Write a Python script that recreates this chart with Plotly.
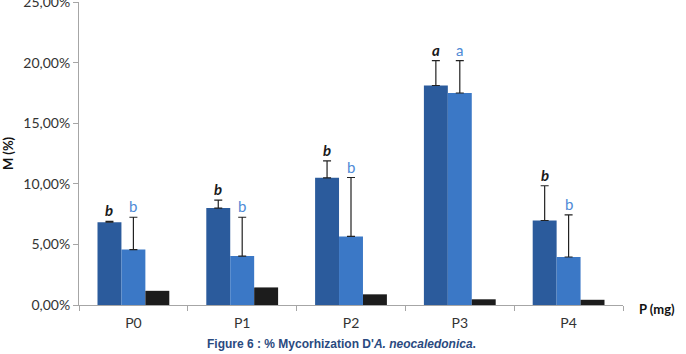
import plotly.graph_objects as go

categories = ["P0", "P1", "P2", "P3", "P4"]
series_a = [6.83, 8.00, 10.49, 18.11, 6.97]
series_a_err = [0.08, 0.66, 1.40, 2.05, 2.87]
series_b = [4.57, 4.04, 5.66, 17.49, 3.96]
series_b_err = [2.67, 3.20, 4.86, 2.67, 3.47]
series_c = [1.17, 1.45, 0.88, 0.47, 0.43]
letters_a = ["b", "b", "b", "a", "b"]
letters_b = ["b", "b", "b", "a", "b"]
y_ticks = [0, 5, 10, 15, 20, 25]
y_tick_labels = ["0,00%", "5,00%", "10,00%", "15,00%", "20,00%", "25,00%"]

font_main = "Lato, Open Sans, Liberation Sans, Arial, sans-serif"

fig = go.Figure()
fig.add_trace(go.Bar(
    x=categories, y=series_a, marker=dict(color="#2b5b9c", line=dict(width=0)),
    error_y=dict(type="data", array=series_a_err, arrayminus=[0] * 5, symmetric=False,
                 color="#222222", thickness=1.2, width=4),
    showlegend=False))
fig.add_trace(go.Bar(
    x=categories, y=series_b, marker=dict(color="#3b78c6", line=dict(width=0)),
    error_y=dict(type="data", array=series_b_err, arrayminus=[0] * 5, symmetric=False,
                 color="#222222", thickness=1.2, width=4),
    showlegend=False))
fig.add_trace(go.Bar(
    x=categories, y=series_c, marker=dict(color="#1c1c1c", line=dict(width=0)),
    showlegend=False))

for i, c in enumerate(categories):
    fig.add_annotation(x=c, y=series_a[i] + series_a_err[i], xref="x", yref="y",
                       text="<b><i>%s</i></b>" % letters_a[i], showarrow=False,
                       xshift=-24, yanchor="bottom", yshift=0,
                       font=dict(family=font_main, size=15, color="#1a1a1a"))
    fig.add_annotation(x=c, y=series_b[i] + series_b_err[i], xref="x", yref="y",
                       text=letters_b[i], showarrow=False,
                       xshift=0, yanchor="bottom", yshift=0,
                       font=dict(family=font_main, size=15, color="#4f8ad6"))

fig.add_annotation(x=1, y=0.02, xref="paper", yref="paper", xanchor="left", yanchor="top",
                   xshift=14,
                   text="<b>P (mg)</b>", showarrow=False,
                   font=dict(family=font_main, size=13, color="#111111"))
fig.add_annotation(x=0.5, y=-0.1, xref="paper", yref="paper", xanchor="center", yanchor="top",
                   xshift=-10,
                   text="<b>Figure 6 : % Mycorhization D'<i>A. neocaledonica</i>.</b>", showarrow=False,
                   font=dict(family="Liberation Sans Narrow, Arial Narrow, Liberation Sans, sans-serif",
                             size=12, color="#2a4a80"))

fig.update_layout(
    width=686, height=354,
    margin=dict(l=79, r=63, t=2, b=49, autoexpand=False),
    paper_bgcolor="white", plot_bgcolor="white",
    barmode="group", bargap=0.34, bargroupgap=0,
    font=dict(family=font_main, size=14, color="#333333"),
)
fig.update_xaxes(
    type="category", showline=True, linecolor="#a6a6a6", linewidth=1,
    ticks="outside", tickson="boundaries", ticklen=5, tickcolor="#a6a6a6",
    ticklabelstandoff=5, automargin=False,
    showgrid=False, tickfont=dict(size=14, color="#333333"),
)
fig.update_yaxes(
    range=[0, 25], tickvals=y_ticks, ticktext=y_tick_labels,
    showline=True, linecolor="#a6a6a6", linewidth=1,
    ticks="outside", ticklen=5, tickcolor="#a6a6a6",
    ticklabeloverflow="allow", automargin=False,
    showgrid=False, zeroline=False, tickfont=dict(size=14, color="#333333"),
    title=dict(text="<b>M (%)</b>", font=dict(size=13, color="#111111"), standoff=14),
)

fig.write_html("out.html")
